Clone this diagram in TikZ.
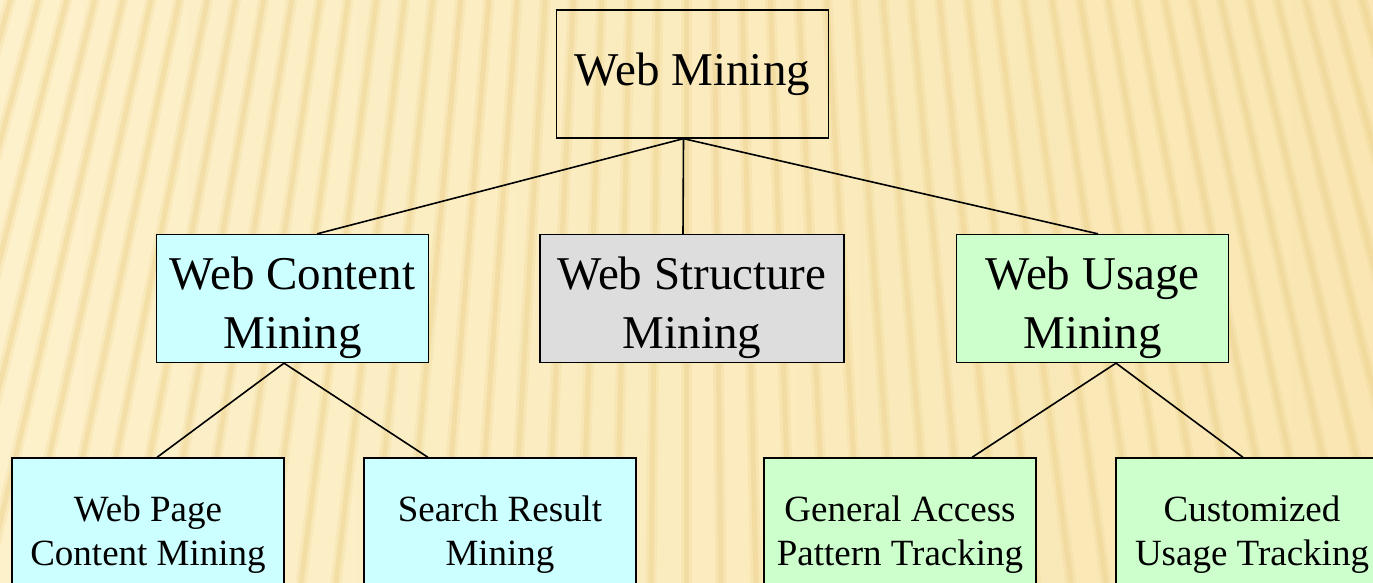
\documentclass[tikz,border=0pt]{standalone}
\usepackage{fontspec}
\setmainfont{Liberation Serif}
\definecolor{paper}{HTML}{FDF1CB}
\definecolor{paperdark}{HTML}{F9E6B2}
\definecolor{ridge}{HTML}{EBCF88}
\definecolor{contentfill}{HTML}{CCFFFF}
\definecolor{structfill}{HTML}{DDDDDD}
\definecolor{usagefill}{HTML}{CCFFCC}
\newcommand{\boxstrut}{\rule{0pt}{51pt}}

\tikzset{
  topbox/.style={draw, line width=1.3pt, minimum width=272pt, minimum height=128pt,
    inner sep=0pt, font=\fontsize{47}{59}\selectfont},
  midbox/.style={topbox, align=center},
  leafbox/.style={draw, line width=1.3pt, minimum width=272pt, minimum height=153pt,
    inner sep=0pt, align=center, font=\fontsize{37}{44}\selectfont},
  link/.style={line width=1.6pt}
}

\begin{document}
\begin{tikzpicture}[x=1pt,y=-1pt]
  \useasboundingbox (0,0) rectangle (1373,583);
  % Hintergrund mit Streifen
  \shade[left color=paper, right color=paperdark] (0,0) rectangle (1373,583);
  \begin{scope}
    \clip (0,0) rectangle (1373,583);
    \foreach \k in {-26,...,26}{
      \draw[ridge, line width=11pt, opacity=0.22] (686,-2400) -- ({686+35*\k},583);
      \draw[ridge, line width=5pt, opacity=0.35] (686,-2400) -- ({686+35*\k},583);
    }
  \end{scope}

  % Kaesten
  \node[topbox] (web) at (692.5,74) {Web Mining};
  \node[midbox, fill=contentfill] (content) at (292.5,298.5) {\boxstrut Web Content\\Mining};
  \node[midbox, fill=structfill, minimum width=304pt] (structure) at (692,298.5) {\boxstrut Web Structure\\Mining};
  \node[midbox, fill=usagefill] (usage) at (1092.5,298.5) {\boxstrut Web Usage\\Mining};

  \node[leafbox, fill=contentfill] (page) at (148,534.5) {Web Page\\Content Mining};
  \node[leafbox, fill=contentfill] (search) at (500,534.5) {Search Result\\Mining};
  \node[leafbox, fill=usagefill] (access) at (900,534.5) {General Access\\Pattern Tracking};
  \node[leafbox, fill=usagefill] (custom) at (1252,534.5) {Customized\\Usage Tracking};

  % Verbindungen
  \draw[link] ([xshift=-9pt]web.south) -- ([xshift=24.5pt]content.north);
  \draw[link] ([xshift=-9pt]web.south) -- ([xshift=-9pt]structure.north);
  \draw[link] ([xshift=-9pt]web.south) -- ([xshift=5.5pt]usage.north);
  \draw[link] ([xshift=-8.5pt]content.south) -- ([xshift=9pt]page.north);
  \draw[link] ([xshift=-8.5pt]content.south) -- ([xshift=-72pt]search.north);
  \draw[link] ([xshift=23.5pt]usage.south) -- ([xshift=72pt]access.north);
  \draw[link] ([xshift=23.5pt]usage.south) -- ([xshift=-9pt]custom.north);
\end{tikzpicture}
\end{document}
